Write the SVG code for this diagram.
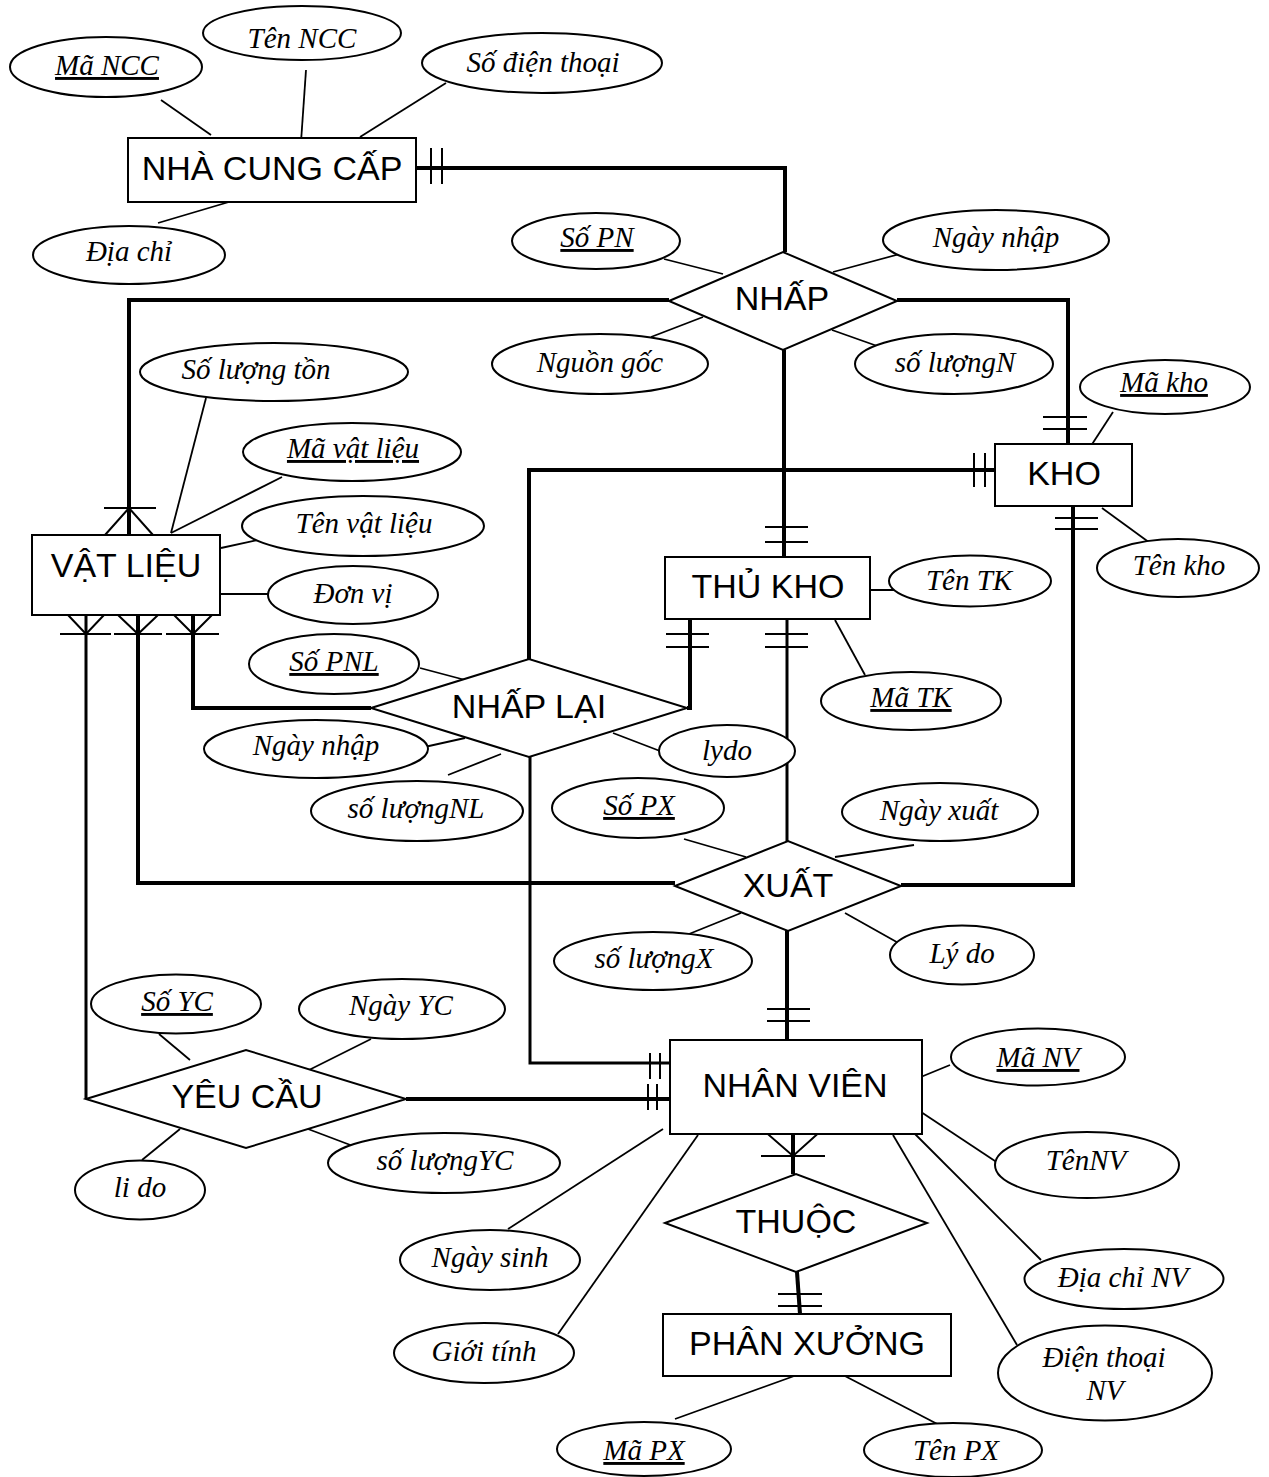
<svg xmlns="http://www.w3.org/2000/svg" width="1269" height="1477" viewBox="0 0 1269 1477">
<style>
.bg{fill:#fff}
.ent rect,.rel polygon{fill:#fff;stroke:#000;stroke-width:2}
.att ellipse{fill:#fff;stroke:#000;stroke-width:2}
.et{font-family:"Liberation Sans",Arial,sans-serif;font-size:34px;text-anchor:middle;fill:#000}
.at{font-family:"Liberation Serif","Times New Roman",serif;font-style:italic;font-size:29px;text-anchor:middle;fill:#000}
.u{text-decoration:underline}
.thick{fill:none;stroke:#000;stroke-width:4}
.med{fill:none;stroke:#000;stroke-width:3}
.thin{fill:none;stroke:#000;stroke-width:1.8}
.mk{fill:none;stroke:#000;stroke-width:2}
</style>
<rect class="bg" x="0" y="0" width="1269" height="1477"/>

<g id="connectors">
  <!-- relationship connectors -->
  <path class="thick" d="M416,168 H785 V252"/>
  <path class="mk" d="M431,148 V184 M442,148 V184"/>
  <path class="thick" d="M669,300 H129 V535"/>
  <path class="mk" d="M104,508 H156 M105,535 L129,508 L153,535"/>
  <path class="thick" d="M897,300 H1068 V444"/>
  <path class="mk" d="M1043,417 H1087 M1043,429 H1087"/>
  <path class="thick" d="M784,350 V557"/>
  <path class="mk" d="M765,527 H808 M765,542 H808"/>
  <path class="thick" d="M995,470 H529 V659"/>
  <path class="mk" d="M974,453 V487 M985,453 V487"/>
  <path class="thick" d="M690,619 V708 H687"/>
  <path class="mk" d="M666,634 H709 M666,647 H709"/>
  <path class="med" d="M787,619 V841"/>
  <path class="mk" d="M765,634 H808 M765,647 H808"/>
  <path class="thick" d="M1073,506 V885 H901"/>
  <path class="mk" d="M1055,518 H1098 M1055,529 H1098"/>
  <path class="thick" d="M193,615 V708 H371"/>
  <path class="mk" d="M166,634 H219 M174,615 L193,634 L212,615"/>
  <path class="thick" d="M138,615 V883 H675"/>
  <path class="mk" d="M114,634 H162 M118,615 L138,634 L158,615"/>
  <path class="med" d="M86,615 V1099"/>
  <path class="mk" d="M60,634 H111 M68,615 L86,634 L104,615"/>
  <path class="med" d="M530,757 V1063 H670"/>
  <path class="mk" d="M650,1053 V1079 M660,1053 V1079"/>
  <path class="thick" d="M406,1099 H670"/>
  <path class="mk" d="M648,1084 V1110 M657,1084 V1110"/>
  <path class="thick" d="M787,931 V1040"/>
  <path class="mk" d="M767,1009 H810 M767,1021 H810"/>
  <path class="thick" d="M793,1134 V1174"/>
  <path class="mk" d="M761,1156 H825 M762,1129 L793,1156 L823,1129"/>
  <path class="thick" d="M797,1272 L800,1314"/>
  <path class="mk" d="M778,1294 H822 M778,1306 H822"/>
  <!-- attribute links -->
  <path class="thin" d="M161,100 L211,135"/>
  <path class="thin" d="M306,70 L301,142"/>
  <path class="thin" d="M446,83 L360,137"/>
  <path class="thin" d="M158,223 L239,199"/>
  <path class="thin" d="M664,259 L723,274"/>
  <path class="thin" d="M900,254 L833,272"/>
  <path class="thin" d="M651,337 L703,317"/>
  <path class="thin" d="M832,330 L880,347"/>
  <path class="thin" d="M206,398 L171,533"/>
  <path class="thin" d="M282,477 L171,533"/>
  <path class="thin" d="M221,548 L271,537"/>
  <path class="thin" d="M219,594 L275,594"/>
  <path class="thin" d="M1113,412 L1087,452"/>
  <path class="thin" d="M1102,508 L1150,543"/>
  <path class="thin" d="M862,590 L895,590"/>
  <path class="thin" d="M835,620 L865,675"/>
  <path class="thin" d="M420,668 L469,681"/>
  <path class="thin" d="M420,748 L465,738"/>
  <path class="thin" d="M448,775 L501,754"/>
  <path class="thin" d="M613,733 L660,751"/>
  <path class="thin" d="M684,839 L746,857"/>
  <path class="thin" d="M914,845 L835,857"/>
  <path class="thin" d="M689,934 L741,913"/>
  <path class="thin" d="M845,913 L902,945"/>
  <path class="thin" d="M159,1034 L190,1060"/>
  <path class="thin" d="M371,1039 L309,1070"/>
  <path class="thin" d="M142,1160 L180,1129"/>
  <path class="thin" d="M308,1129 L353,1146"/>
  <path class="thin" d="M911,1081 L950,1065"/>
  <path class="thin" d="M915,1108 L998,1163"/>
  <path class="thin" d="M913,1132 L1041,1260"/>
  <path class="thin" d="M893,1135 L1017,1345"/>
  <path class="thin" d="M663,1129 L508,1229"/>
  <path class="thin" d="M698,1135 L558,1334"/>
  <path class="thin" d="M797,1375 L675,1419"/>
  <path class="thin" d="M843,1375 L945,1428"/>
</g>

<!-- entities -->
<g id="nha-cung-cap" class="ent"><rect x="128" y="138" width="288" height="64"/><text class="et" x="272" y="180">NHÀ CUNG CẤP</text></g>
<g id="vat-lieu" class="ent"><rect x="32" y="535" width="188" height="80"/><text class="et" x="126" y="577">VẬT LIỆU</text></g>
<g id="kho" class="ent"><rect x="995" y="444" width="137" height="62"/><text class="et" x="1064" y="485">KHO</text></g>
<g id="thu-kho" class="ent"><rect x="665" y="557" width="205" height="62"/><text class="et" x="768" y="598">THỦ KHO</text></g>
<g id="nhan-vien" class="ent"><rect x="670" y="1040" width="252" height="94"/><text class="et" x="795" y="1097">NHÂN VIÊN</text></g>
<g id="phan-xuong" class="ent"><rect x="663" y="1314" width="288" height="62"/><text class="et" x="807" y="1355">PHÂN XƯỞNG</text></g>

<!-- relationships -->
<g id="nhap" class="rel"><polygon points="669,301 783,252 897,301 783,350"/><text class="et" x="782" y="310">NHẤP</text></g>
<g id="nhap-lai" class="rel"><polygon points="371,708 529,659 687,708 529,757"/><text class="et" x="529" y="718">NHẤP LẠI</text></g>
<g id="xuat" class="rel"><polygon points="675,886 788,841 901,886 788,931"/><text class="et" x="788" y="897">XUẤT</text></g>
<g id="yeu-cau" class="rel"><polygon points="86,1099 246,1050 406,1099 246,1148"/><text class="et" x="247" y="1108">YÊU CẦU</text></g>
<g id="thuoc" class="rel"><polygon points="665,1223 796,1174 927,1223 796,1272"/><text class="et" x="796" y="1233">THUỘC</text></g>

<!-- attributes -->
<g id="ma-ncc" class="att"><ellipse cx="106" cy="67" rx="96" ry="30"/><text class="at u" x="107" y="75">Mã NCC</text></g>
<g id="ten-ncc" class="att"><ellipse cx="302" cy="33" rx="99" ry="27"/><text class="at" x="302" y="48">Tên NCC</text></g>
<g id="sdt-ncc" class="att"><ellipse cx="542" cy="63" rx="120" ry="30"/><text class="at" x="543" y="72">Số điện thoại</text></g>
<g id="dia-chi" class="att"><ellipse cx="129" cy="255" rx="96" ry="29"/><text class="at" x="129" y="261">Địa chỉ</text></g>
<g id="so-pn" class="att"><ellipse cx="596" cy="241" rx="84" ry="28"/><text class="at u" x="597" y="247">Số PN</text></g>
<g id="ngay-nhap" class="att"><ellipse cx="996" cy="240" rx="113" ry="30"/><text class="at" x="996" y="247">Ngày nhập</text></g>
<g id="nguon-goc" class="att"><ellipse cx="600" cy="364" rx="108" ry="30"/><text class="at" x="600" y="372">Nguồn gốc</text></g>
<g id="so-luong-n" class="att"><ellipse cx="954" cy="364" rx="99" ry="30"/><text class="at" x="955" y="372">số lượngN</text></g>
<g id="so-luong-ton" class="att"><ellipse cx="274" cy="372" rx="134" ry="29"/><text class="at" x="256" y="379">Số lượng tồn</text></g>
<g id="ma-vat-lieu" class="att"><ellipse cx="352" cy="452" rx="109" ry="29"/><text class="at u" x="353" y="458">Mã vật liệu</text></g>
<g id="ten-vat-lieu" class="att"><ellipse cx="363" cy="526" rx="121" ry="30"/><text class="at" x="364" y="533">Tên vật liệu</text></g>
<g id="don-vi" class="att"><ellipse cx="353" cy="595" rx="85" ry="29"/><text class="at" x="353" y="603">Đơn vị</text></g>
<g id="ma-kho" class="att"><ellipse cx="1165" cy="387" rx="85" ry="27"/><text class="at u" x="1164" y="392">Mã kho</text></g>
<g id="ten-kho" class="att"><ellipse cx="1178" cy="568" rx="81" ry="29"/><text class="at" x="1179" y="575">Tên kho</text></g>
<g id="ten-tk" class="att"><ellipse cx="970" cy="581" rx="81" ry="25.5"/><text class="at" x="969" y="590">Tên TK</text></g>
<g id="ma-tk" class="att"><ellipse cx="911" cy="701" rx="90" ry="29"/><text class="at u" x="911" y="707">Mã TK</text></g>
<g id="so-pnl" class="att"><ellipse cx="334" cy="664" rx="85" ry="30"/><text class="at u" x="334" y="671">Số PNL</text></g>
<g id="ngay-nhap-nl" class="att"><ellipse cx="316" cy="749" rx="112" ry="29"/><text class="at" x="316" y="755">Ngày nhập</text></g>
<g id="so-luong-nl" class="att"><ellipse cx="417" cy="811" rx="106" ry="30"/><text class="at" x="416" y="818">số lượngNL</text></g>
<g id="lydo" class="att"><ellipse cx="727" cy="751" rx="68" ry="26"/><text class="at" x="727" y="760">lydo</text></g>
<g id="so-px" class="att"><ellipse cx="638" cy="808" rx="86" ry="30"/><text class="at u" x="639" y="815">Số PX</text></g>
<g id="ngay-xuat" class="att"><ellipse cx="940" cy="812" rx="98" ry="29"/><text class="at" x="939" y="820">Ngày xuất</text></g>
<g id="so-luong-x" class="att"><ellipse cx="653" cy="961" rx="99" ry="29"/><text class="at" x="654" y="968">số lượngX</text></g>
<g id="ly-do" class="att"><ellipse cx="962" cy="955" rx="72" ry="29.5"/><text class="at" x="962" y="963">Lý do</text></g>
<g id="so-yc" class="att"><ellipse cx="176" cy="1004" rx="85" ry="29.5"/><text class="at u" x="177" y="1011">Số YC</text></g>
<g id="ngay-yc" class="att"><ellipse cx="402" cy="1009" rx="103" ry="30"/><text class="at" x="401" y="1015">Ngày YC</text></g>
<g id="li-do" class="att"><ellipse cx="140" cy="1190" rx="65" ry="29.5"/><text class="at" x="140" y="1197">li do</text></g>
<g id="so-luong-yc" class="att"><ellipse cx="444" cy="1163" rx="116" ry="30"/><text class="at" x="445" y="1170">số lượngYC</text></g>
<g id="ma-nv" class="att"><ellipse cx="1038" cy="1057" rx="87" ry="28.5"/><text class="at u" x="1038" y="1067">Mã NV</text></g>
<g id="ten-nv" class="att"><ellipse cx="1087" cy="1165" rx="92" ry="33"/><text class="at" x="1086" y="1170">TênNV</text></g>
<g id="dia-chi-nv" class="att"><ellipse cx="1124" cy="1279" rx="99.5" ry="30"/><text class="at" x="1123" y="1287">Địa chỉ NV</text></g>
<g id="dien-thoai-nv" class="att"><ellipse cx="1105" cy="1373" rx="107" ry="47.5"/><text class="at" x="1104" y="1367">Điện thoại</text><text class="at" x="1105" y="1400">NV</text></g>
<g id="ngay-sinh" class="att"><ellipse cx="490" cy="1260" rx="90" ry="30"/><text class="at" x="490" y="1267">Ngày sinh</text></g>
<g id="gioi-tinh" class="att"><ellipse cx="484" cy="1353" rx="90" ry="30"/><text class="at" x="484" y="1361">Giới tính</text></g>
<g id="ma-px" class="att"><ellipse cx="644" cy="1449" rx="87" ry="27"/><text class="at u" x="644" y="1460">Mã PX</text></g>
<g id="ten-px" class="att"><ellipse cx="953" cy="1450" rx="89" ry="27"/><text class="at" x="956" y="1460">Tên PX</text></g>
</svg>
